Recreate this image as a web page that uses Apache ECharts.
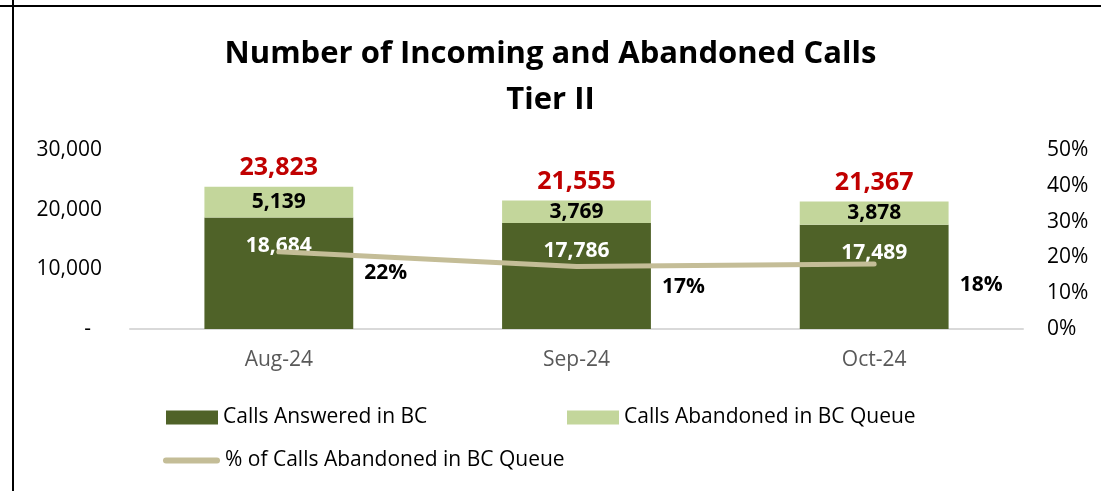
<!DOCTYPE html>
<html>
<head>
<meta charset="utf-8">
<script src="https://cdn.jsdelivr.net/npm/echarts@6/dist/echarts.min.js"></script>
<style>
html,body{margin:0;padding:0;background:#fff;}
#chart{width:1101px;height:491px;}
</style>
</head>
<body>
<div id="chart"></div>
<script>
var categories = ['Aug-24', 'Sep-24', 'Oct-24'];
var answered = [18684, 17786, 17489];
var abandoned = [5139, 3769, 3878];
var totals = [23823, 21555, 21367];
var pctAbandoned = [0.2157, 0.1749, 0.1815];
var leftTicks = [0, 10000, 20000, 30000];
var rightTicks = [0, 0.1, 0.2, 0.3, 0.4, 0.5];

var FONT = '"Open Sans", sans-serif';
var chart = echarts.init(document.getElementById('chart'));

function fmtNum(v){ return v.toLocaleString('en-US'); }
var lineIcon = 'path://M3,0 L54,0 A3,3 0 0 1 54,6 L3,6 A3,3 0 0 1 3,0 Z';

var option = {
  backgroundColor: '#ffffff',
  animation: false,
  textStyle: { fontFamily: FONT },
  title: {
    text: 'Number of Incoming and Abandoned Calls\nTier II',
    left: 'center',
    top: 26,
    textStyle: { fontFamily: FONT, fontSize: 31, fontWeight: 'bold', color: '#000', lineHeight: 46 }
  },
  graphic: [
    { type: 'line', shape: { x1: 0, y1: 6, x2: 1101, y2: 6 }, style: { stroke: '#000', lineWidth: 2 } },
    { type: 'line', shape: { x1: 13, y1: 0, x2: 13, y2: 491 }, style: { stroke: '#000', lineWidth: 2 } }
  ],
  legend: [
    { left: 161, top: 402, itemWidth: 52, itemHeight: 14, itemGap: 5, icon: 'rect',
      data: ['Calls Answered in BC'], textStyle: { fontFamily: FONT, fontSize: 21, color: '#000' } },
    { left: 562, top: 402, itemWidth: 52, itemHeight: 14, icon: 'rect',
      data: ['Calls Abandoned in BC Queue'], textStyle: { fontFamily: FONT, fontSize: 21, color: '#000' } },
    { left: 158, top: 445, itemWidth: 57, itemHeight: 6, icon: lineIcon,
      itemStyle: { color: '#C4BD97' },
      data: ['% of Calls Abandoned in BC Queue'], textStyle: { fontFamily: FONT, fontSize: 21, color: '#000' } }
  ],
  grid: { left: 130, right: 78, top: 150, bottom: 162, containLabel: false },
  xAxis: {
    type: 'category',
    data: categories,
    axisLine: { lineStyle: { color: '#D9D9D9', width: 2 } },
    axisTick: { show: false },
    axisLabel: { color: '#595959', fontSize: 21, fontFamily: FONT, margin: 21 }
  },
  yAxis: [
    { type: 'value', min: 0, max: 30000, interval: 10000,
      splitLine: { show: false }, axisLine: { show: false }, axisTick: { show: false },
      axisLabel: { color: '#000', fontSize: 21, fontFamily: FONT, margin: 28,
        formatter: function(v){ return v === 0 ? '-  ' : fmtNum(v); } } },
    { type: 'value', min: 0, max: 0.5, interval: 0.1,
      splitLine: { show: false }, axisLine: { show: false }, axisTick: { show: false },
      axisLabel: { color: '#000', fontSize: 21, fontFamily: FONT, margin: 24,
        formatter: function(v){ return Math.round(v * 100) + '%'; } } }
  ],
  series: [
    { name: 'Calls Answered in BC', type: 'bar', stack: 'calls', barWidth: '50%',
      data: answered, itemStyle: { color: '#4F6228' },
      label: { show: true, position: 'insideTop', distance: 18, color: '#fff', fontSize: 21, fontWeight: 'bold', fontFamily: FONT,
        formatter: function(p){ return fmtNum(p.value); } } },
    { name: 'Calls Abandoned in BC Queue', type: 'bar', stack: 'calls', barWidth: '50%',
      data: abandoned, itemStyle: { color: '#C3D69B' },
      label: { show: true, position: 'inside', color: '#000', fontSize: 21, fontWeight: 'bold', fontFamily: FONT,
        formatter: function(p){ return fmtNum(p.value); } } },
    { name: 'Total', type: 'bar', stack: 'calls', barWidth: '50%',
      data: totals.map(function(){ return 0; }), itemStyle: { color: 'transparent' },
      label: { show: true, position: 'top', distance: 6, color: '#C00000', fontSize: 25, fontWeight: 'bold', fontFamily: FONT,
        formatter: function(p){ return fmtNum(totals[p.dataIndex]); } } },
    { name: '% of Calls Abandoned in BC Queue', type: 'line', yAxisIndex: 1,
      data: pctAbandoned, symbol: 'circle', symbolSize: 1, showSymbol: true, z: 5,
      lineStyle: { color: '#C4BD97', width: 5, cap: 'round' }, itemStyle: { color: 'rgba(0,0,0,0)' },
      label: { show: true, position: 'right', distance: 5, offset: [80, 21], color: '#000', fontSize: 21, fontWeight: 'bold', fontFamily: FONT,
        formatter: function(p){ return Math.round(p.value * 100) + '%'; } } }
  ]
};
chart.setOption(option);
</script>
</body>
</html>
